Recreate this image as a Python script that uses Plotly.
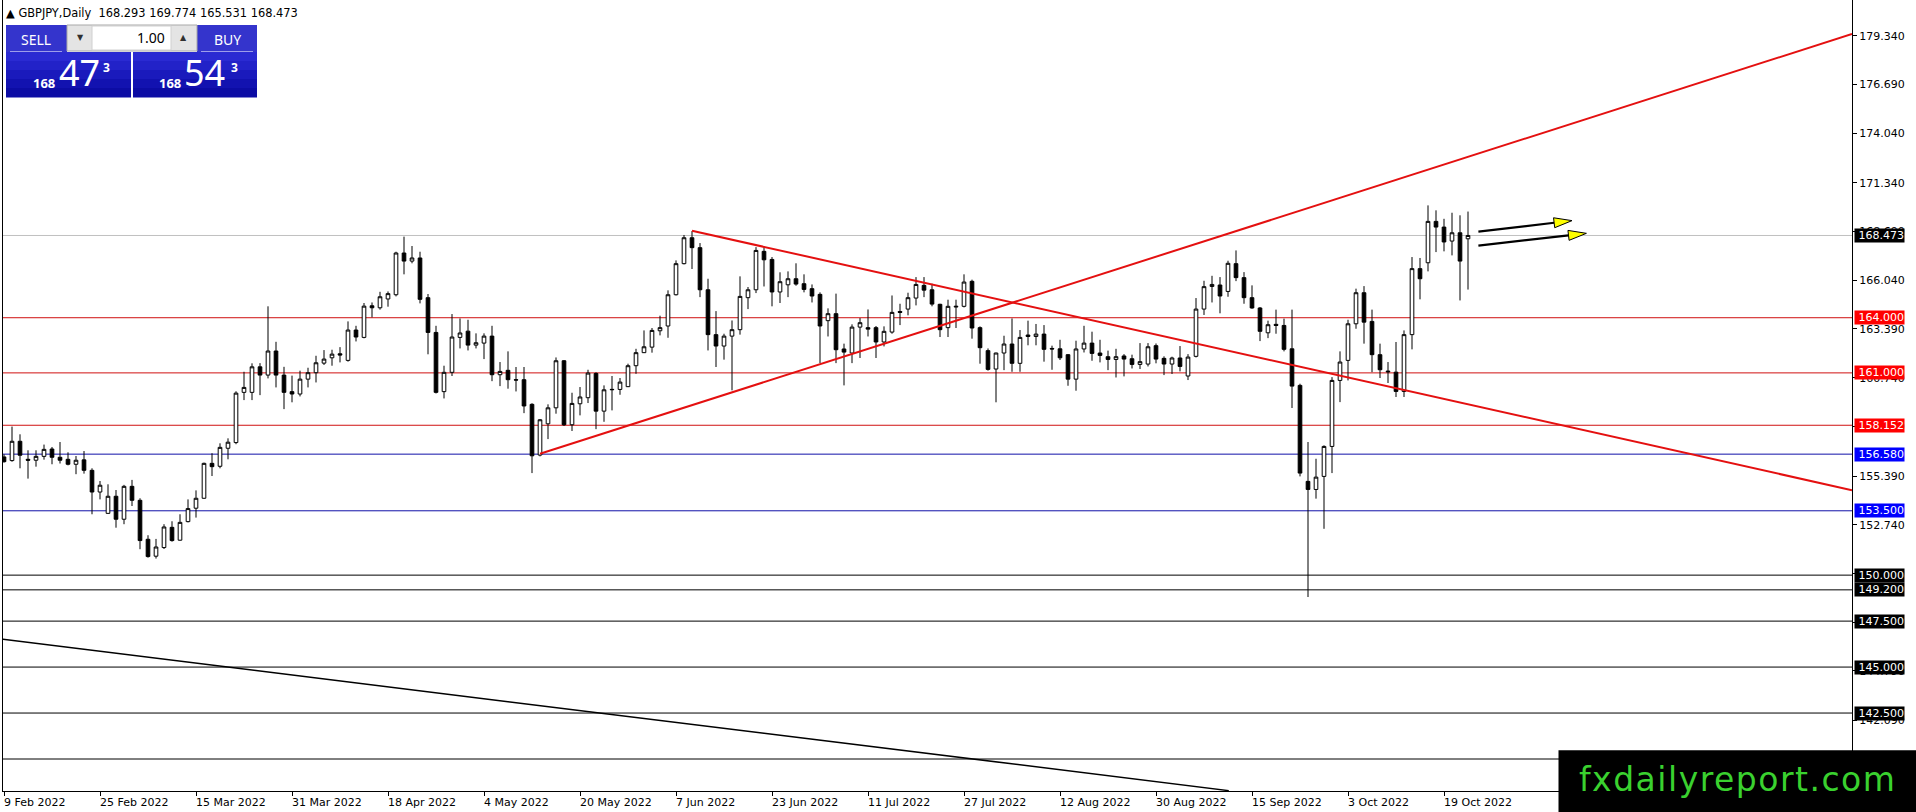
import plotly.graph_objects as go

# ---------------- data ----------------
OPEN = [156.43,156.23,157.28,156.30,156.25,156.46,156.86,156.41,156.30,156.03,
        156.27,155.70,154.52,153.36,154.29,153.04,154.83,154.07,151.95,151.03,
        151.50,152.60,151.90,152.91,153.64,154.18,156.08,155.92,156.90,157.21,
        159.94,159.94,161.33,160.88,162.19,160.88,159.98,159.85,160.66,161.01,
        161.53,161.82,162.04,161.68,163.33,162.93,164.65,164.54,165.02,165.25,
        167.52,167.08,167.25,165.09,163.20,159.98,161.03,162.93,163.27,162.51,
        162.62,163.00,160.90,161.14,160.63,160.63,159.29,156.53,158.23,159.10,
        161.66,158.18,159.32,159.65,160.97,158.92,160.08,160.10,160.25,161.39,
        162.10,162.40,163.29,163.55,165.25,166.94,168.35,167.81,165.52,163.08,
        162.46,163.00,163.35,165.09,165.52,167.61,167.17,165.40,165.79,166.12,
        165.85,165.58,165.27,163.84,164.22,162.30,162.08,163.49,163.46,163.46,
        162.68,163.22,164.34,164.47,165.07,165.76,165.52,164.73,163.46,164.58,
        164.62,165.98,163.46,162.21,161.21,162.08,162.57,161.52,163.06,162.98,
        163.11,162.33,162.31,161.99,160.66,162.30,162.62,162.08,161.88,161.73,
        161.92,161.77,161.46,161.48,162.48,161.79,161.48,161.81,160.83,161.90,
        164.47,165.70,165.78,165.43,166.94,166.18,165.09,164.53,163.18,163.64,
        163.58,162.31,160.32,155.10,154.66,155.37,157.00,160.59,161.68,163.67,
        165.36,163.80,161.99,161.10,161.04,159.99,163.08,166.67,166.99,169.24,
        168.93,168.17,168.62,168.293]
HIGH = [156.57,158.08,157.66,156.79,156.79,157.10,156.97,157.24,156.68,156.48,
        156.75,155.81,155.12,154.94,154.63,154.91,155.18,154.18,152.17,151.97,
        152.77,152.93,153.31,154.12,154.61,156.12,156.63,157.17,157.44,160.00,
        161.06,161.52,161.53,164.62,162.69,161.33,160.85,161.12,161.28,161.93,
        162.24,162.26,162.40,163.80,163.56,164.80,164.83,165.41,165.43,167.59,
        168.41,167.90,167.59,165.29,163.56,161.39,164.20,163.96,163.89,163.15,
        163.15,163.56,161.59,162.17,161.32,161.32,159.35,158.49,159.29,161.84,
        161.70,159.92,160.23,161.17,161.03,160.32,160.83,160.72,161.50,162.31,
        163.31,163.44,164.11,165.49,167.12,168.50,168.71,168.06,166.12,164.36,
        163.13,163.85,166.25,165.67,167.84,167.88,167.30,166.47,166.52,166.96,
        166.36,165.81,165.38,164.51,165.31,162.59,163.64,163.98,164.45,163.55,
        163.53,165.21,164.76,165.36,166.21,166.21,165.85,164.76,164.98,164.98,
        166.36,166.07,163.53,162.33,162.10,163.02,163.96,163.33,163.84,163.66,
        163.60,162.48,162.80,162.02,162.75,163.56,163.24,162.80,162.21,162.31,
        162.02,161.99,162.62,162.62,162.60,161.90,161.88,162.46,162.02,165.07,
        166.01,166.28,166.21,167.10,167.66,166.48,165.76,164.58,163.84,164.44,
        163.95,164.44,160.41,157.24,156.33,157.06,160.77,162.17,163.89,165.58,
        165.72,164.44,162.59,161.59,162.68,163.31,167.30,167.25,170.11,169.84,
        169.38,169.71,169.57,169.774]
LOW = [156.12,156.17,155.81,155.25,155.90,156.28,156.03,156.07,155.97,155.49,
       155.52,153.31,154.12,153.35,152.58,152.77,153.76,151.41,150.95,150.90,
       151.42,151.82,151.88,152.87,153.13,154.16,155.39,155.81,156.30,157.12,
       159.52,159.52,159.79,160.70,160.21,159.03,159.40,159.72,160.21,160.48,
       161.43,161.39,161.57,161.61,162.71,162.88,164.02,164.44,164.60,165.16,
       166.36,166.96,164.78,162.01,159.88,159.61,160.83,162.33,162.22,162.33,
       161.75,160.55,160.28,160.14,159.99,158.81,155.55,156.46,157.40,158.78,
       158.11,157.84,158.69,159.36,157.94,158.34,158.96,159.81,160.23,160.95,
       162.08,162.10,163.04,162.91,165.21,166.90,166.65,165.12,162.22,161.32,
       161.72,160.05,163.08,164.47,165.34,165.70,164.62,164.80,165.12,165.74,
       165.38,164.83,161.53,162.98,161.53,160.32,161.53,161.81,162.98,161.81,
       162.44,163.13,163.60,164.13,164.67,165.12,164.62,162.95,162.95,163.44,
       164.56,162.86,161.50,161.12,159.40,161.15,161.06,161.06,162.50,162.50,
       161.61,161.17,161.70,160.30,160.03,162.11,161.66,161.57,161.15,160.75,
       160.81,161.24,161.21,161.35,161.52,160.88,160.94,161.08,160.61,161.84,
       164.15,164.83,164.24,165.14,165.99,164.76,164.49,162.73,162.89,163.13,
       162.17,159.09,155.37,148.81,154.16,152.52,155.55,159.41,160.59,163.40,
       162.59,161.04,160.72,160.45,159.69,159.69,162.28,165.00,166.52,167.57,
       167.61,167.39,164.94,165.531]
CLOSE = [156.17,157.28,156.52,156.25,156.46,156.84,156.41,156.25,156.03,156.25,
         155.70,154.52,154.89,154.29,153.04,154.83,154.07,151.88,151.01,151.53,
         152.62,151.88,152.87,153.62,154.18,156.08,155.90,156.95,157.23,159.90,
         160.21,161.33,160.88,162.19,160.88,159.94,159.85,160.66,161.01,161.55,
         161.75,162.02,161.97,163.33,162.95,164.63,164.54,165.14,165.31,167.52,
         167.08,167.25,165.00,163.20,159.94,161.03,162.95,163.17,162.51,162.64,
         163.00,160.90,161.08,160.63,160.61,159.20,156.49,158.45,159.10,161.66,
         158.18,159.34,159.69,160.99,158.92,160.08,160.10,160.50,161.39,162.10,
         162.42,163.31,163.46,165.25,166.94,168.35,167.81,165.52,163.08,162.46,
         163.00,163.35,165.16,165.52,167.66,167.15,165.40,165.96,166.12,165.83,
         165.54,165.18,163.55,164.22,162.26,162.13,163.49,163.73,163.38,162.68,
         163.26,164.29,164.29,165.09,165.81,165.50,164.74,163.35,164.62,164.62,
         165.94,163.44,162.37,161.19,162.08,162.57,161.52,162.93,162.98,163.11,
         162.28,162.30,161.82,160.66,162.30,162.62,162.06,161.95,161.73,161.88,
         161.75,161.46,161.61,162.42,161.75,161.48,161.81,161.35,161.86,164.47,
         165.69,165.81,165.18,166.96,166.18,165.09,164.53,163.26,163.62,163.58,
         162.28,160.28,155.55,154.66,155.33,157.00,160.59,161.59,163.67,165.36,
         163.76,161.99,161.17,161.06,159.99,163.08,166.67,166.12,169.24,168.93,
         168.12,168.62,167.08,168.473]

TICK_LABELS = ["9 Feb 2022", "25 Feb 2022", "15 Mar 2022", "31 Mar 2022",
               "18 Apr 2022", "4 May 2022", "20 May 2022", "7 Jun 2022",
               "23 Jun 2022", "11 Jul 2022", "27 Jul 2022", "12 Aug 2022",
               "30 Aug 2022", "15 Sep 2022", "3 Oct 2022", "19 Oct 2022"]
BARS_PER_LABEL = 12
Y_TICKS = [179.34, 176.69, 174.04, 171.34, 168.69, 166.04, 163.39, 160.74,
           158.09, 155.39, 152.74, 150.09, 147.44, 144.79, 142.09]

BID = 168.473
RED_LEVELS = [164.000, 161.000, 158.152]
BLUE_LEVELS = [156.580, 153.500]
BLACK_LEVELS = [150.000, 149.200, 147.500, 145.000, 142.500]
BLACK_LEVELS_HIDDEN_LABEL = [140.000]

RED_TRENDLINES = [((67, 156.60), (231.0, 179.43)),
                  ((86, 168.73), (231.0, 154.62))]
BLACK_TRENDLINE = ((-0.5, 146.53), (153.1, 138.28))
ARROWS = [((184.3, 168.68), (196.0, 169.28)),
          ((184.3, 167.92), (197.8, 168.59))]

SYMBOL_TEXT = "\u25b2 GBPJPY,Daily\u00a0 168.293 169.774 165.531 168.473"

# ---------------- geometry ----------------
W, H = 1916, 812
L, R, T, B = 3, 64, 0, 21
PW, PH = W - L - R, H - T - B
X0, X1 = -0.125, 231.0
Y0, Y1 = 138.26, 181.28

def px_x(px):
    return (px - L) / PW

def px_y(py):
    return 1 - (py - T) / PH

def d2p(n, p):
    return (L + (n - X0) / (X1 - X0) * PW, T + (Y1 - p) / (Y1 - Y0) * PH)

def p2d(x, y):
    return (X0 + (x - L) / PW * (X1 - X0), Y1 - (y - T) / PH * (Y1 - Y0))

idx = list(range(len(OPEN)))

fig = go.Figure()
fig.add_trace(go.Candlestick(
    x=idx, open=OPEN, high=HIGH, low=LOW, close=CLOSE,
    increasing=dict(line=dict(color="black", width=1), fillcolor="white"),
    decreasing=dict(line=dict(color="black", width=1), fillcolor="black"),
    whiskerwidth=0, hoverinfo="skip", showlegend=False,
))

shapes = []
annotations = []
FONT = "DejaVu Sans"

def hline(p, color, width=1, layer="below"):
    shapes.append(dict(type="line", xref="paper", yref="y", x0=0, x1=1, y0=p, y1=p,
                       line=dict(color=color, width=width), layer=layer))

def price_box(p, bg):
    annotations.append(dict(xref="paper", yref="y", x=1, y=p, xanchor="left",
                            yanchor="middle", xshift=1.5, text=f"{p:.3f}",
                            showarrow=False, bgcolor=bg, borderpad=0, width=49,
                            height=13, align="right",
                            font=dict(family=FONT, size=11, color="white")))

hline(BID, "#c0c0c0")
for p in RED_LEVELS:
    hline(p, "#d01010")
for p in BLUE_LEVELS:
    hline(p, "#1010a8")
for p in BLACK_LEVELS + BLACK_LEVELS_HIDDEN_LABEL:
    hline(p, "black")

for (a, b) in RED_TRENDLINES:
    shapes.append(dict(type="line", xref="x", yref="y", x0=a[0], y0=a[1], x1=b[0], y1=b[1],
                       line=dict(color="#e41010", width=2), layer="above"))
a, b = BLACK_TRENDLINE
shapes.append(dict(type="line", xref="x", yref="y", x0=a[0], y0=a[1], x1=b[0], y1=b[1],
                   line=dict(color="black", width=1.5), layer="above"))

# arrows: black shaft + yellow head (computed in pixel space)
for (s, t) in ARROWS:
    sx, sy = d2p(*s)
    tx, ty = d2p(*t)
    dx, dy = tx - sx, ty - sy
    ln = (dx * dx + dy * dy) ** 0.5
    ux, uy = dx / ln, dy / ln
    hl, hw = 18, 5
    bx, by = tx - ux * hl, ty - uy * hl
    p1 = p2d(bx - uy * hw, by + ux * hw)
    p2 = p2d(bx + uy * hw, by - ux * hw)
    bc = p2d(bx, by)
    shapes.append(dict(type="line", xref="x", yref="y", x0=s[0], y0=s[1], x1=bc[0], y1=bc[1],
                       line=dict(color="black", width=2.2), layer="above"))
    path = f"M {p1[0]},{p1[1]} L {t[0]},{t[1]} L {p2[0]},{p2[1]} Z"
    shapes.append(dict(type="path", xref="x", yref="y", path=path, fillcolor="#ffff00",
                       line=dict(color="black", width=1), layer="above"))

# right-axis price boxes
price_box(BID, "black")
for p in RED_LEVELS:
    price_box(p, "#ff0000")
for p in BLUE_LEVELS:
    price_box(p, "#0000ff")
for p in BLACK_LEVELS:
    price_box(p, "black")

# x-axis date labels (left aligned at the tick, MT4 style)
tickvals = [i * BARS_PER_LABEL for i in range(len(TICK_LABELS))]
for tv, lab in zip(tickvals, TICK_LABELS):
    annotations.append(dict(xref="x", yref="paper", x=tv, y=px_y(802), xanchor="left",
                            yanchor="middle", text=lab, showarrow=False, borderpad=0,
                            xshift=-1, font=dict(family=FONT, size=11, color="black")))

# symbol header
annotations.append(dict(xref="paper", yref="paper", x=px_x(5), y=px_y(13), xanchor="left",
                        yanchor="middle", text=SYMBOL_TEXT, showarrow=False, borderpad=0,
                        font=dict(family=FONT, size=11.4, color="black")))

# one-click trading panel
def rect(x0, y0, x1, y1, fill, line=None, lw=0):
    shapes.append(dict(type="rect", xref="paper", yref="paper", x0=px_x(x0), x1=px_x(x1),
                       y0=px_y(y1), y1=px_y(y0), fillcolor=fill,
                       line=dict(color=line or fill, width=lw), layer="above"))

def seg(x0, y0, x1, y1, color, w=1):
    shapes.append(dict(type="line", xref="paper", yref="paper", x0=px_x(x0), x1=px_x(x1),
                       y0=px_y(y0), y1=px_y(y1), line=dict(color=color, width=w), layer="above"))

def txt(x, y, s, size, color="white", family="Noto Sans", xanchor="center", bold=False):
    annotations.append(dict(xref="paper", yref="paper", x=px_x(x), y=px_y(y), xanchor=xanchor,
                            yanchor="middle", text=(f"<b>{s}</b>" if bold else s),
                            showarrow=False, borderpad=0,
                            font=dict(family=family, size=size, color=color)))

PANEL_TOP = "#3434cc"
GRAD = ["#2a2ad2", "#2222c8", "#1a1abc", "#1212b0", "#0c0ca4"]
for (x0, x1) in [(6, 67), (197, 257)]:
    rect(x0, 25, x1, 52, PANEL_TOP)
for (x0, x1) in [(6, 131), (133, 257)]:
    n = len(GRAD)
    for i, c in enumerate(GRAD):
        rect(x0, 52 + i * 45 / n, x1, 52 + (i + 1) * 45 / n + 0.5, c)
seg(10, 51.5, 62, 51.5, "#9d9dea")
seg(201, 51.5, 253, 51.5, "#9d9dea")
rect(67, 25, 197, 51, "#e4e4e4", "#a8a8a8", 1)
rect(92, 26, 171, 50, "white", "#d0d0d0", 1)
txt(36, 39, "SELL", 14)
txt(227, 39, "BUY", 14)
txt(166, 38, "1.00", 14, color="black", xanchor="right")
txt(80, 38, "\u25bc", 8, color="#303030", family=FONT)
txt(183, 38, "\u25b2", 8, color="#303030", family=FONT)
txt(43.5, 83, "168", 13, bold=True)
txt(79, 73, "47", 36)
txt(106.5, 67.5, "3", 12, bold=True)
txt(169.5, 83, "168", 13, bold=True)
txt(204, 73, "54", 36)
txt(234, 67.5, "3", 12, bold=True)

# logo
rect(1558.5, 750.3, 1916, 812, "black")
annotations.append(dict(xref="paper", yref="paper", x=px_x(1737), y=px_y(779), xanchor="center",
                        yanchor="middle", showarrow=False, borderpad=0,
                        text='<span style="letter-spacing:1.5px">fxdailyreport.com</span>',
                        font=dict(family=FONT, size=33, color="#3ad12f")))

fig.update_layout(
    width=W, height=H, margin=dict(l=L, r=R, t=T, b=B, pad=0),
    paper_bgcolor="white", plot_bgcolor="white", showlegend=False,
    boxgap=0.35, shapes=shapes, annotations=annotations, hovermode=False,
    xaxis=dict(range=[X0, X1], rangeslider=dict(visible=False), showgrid=False,
               zeroline=False, showline=True, linecolor="black", linewidth=1,
               tickvals=tickvals, showticklabels=False, ticks="outside", ticklen=4,
               tickcolor="black", fixedrange=True),
    yaxis=dict(range=[Y0, Y1], side="right", showgrid=False, zeroline=False,
               showline=True, linecolor="black", linewidth=1, mirror=True,
               tickvals=Y_TICKS, ticktext=[f"{v:.3f}" for v in Y_TICKS],
               ticks="outside", ticklen=4, tickcolor="black",
               tickfont=dict(family=FONT, size=11, color="black"), fixedrange=True),
)

fig.write_html("out.html", config={"displayModeBar": False},
               post_script="document.body.style.margin='0';document.body.style.overflow='hidden';")
